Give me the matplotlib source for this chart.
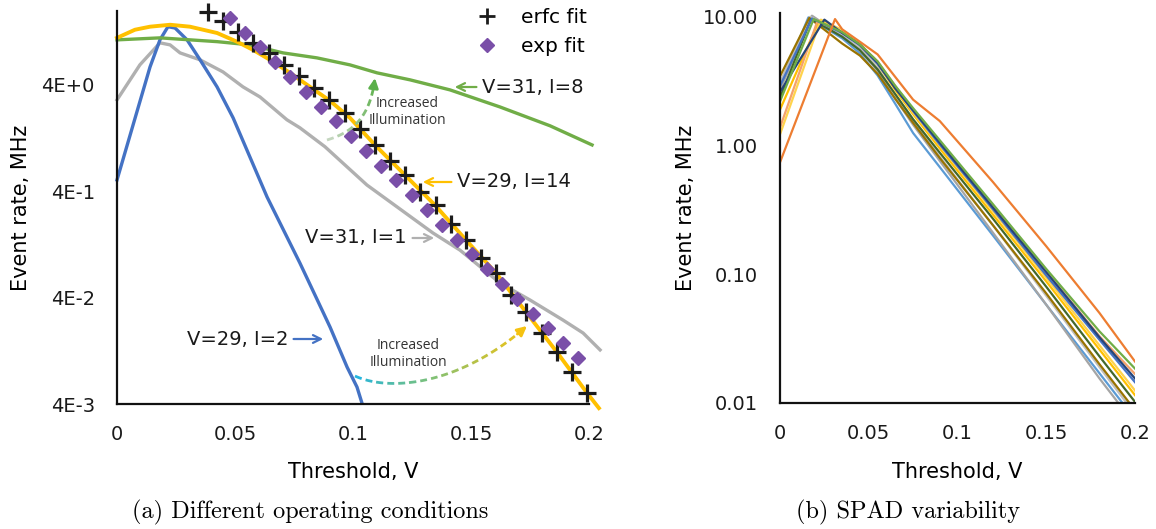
import numpy as np
import matplotlib
matplotlib.use('Agg')
import matplotlib.pyplot as plt
from matplotlib.lines import Line2D
from matplotlib.collections import LineCollection
from matplotlib.colors import LinearSegmentedColormap
from matplotlib.ticker import NullLocator

plt.rcParams['font.family'] = 'DejaVu Sans'

# ---- (a) different operating conditions ----
blue_x = [0, 0.014, 0.0182, 0.0216, 0.0246, 0.0297, 0.0352, 0.0424, 0.0492, 0.0636,
          0.0775, 0.0839, 0.0903, 0.0975, 0.1017, 0.1038]
blue_y = [0.511, 5.9, 10.6, 14.1, 13.7, 10.6, 6.88, 3.83, 1.96, 0.353,
          0.0846, 0.0423, 0.0211, 0.00889, 0.00577, 0.00408]

yellow_x = [0, 0.0076, 0.014, 0.0225, 0.0309, 0.0424, 0.0508, 0.0576, 0.0648, 0.0733,
            0.0818, 0.0903, 0.0987, 0.1093, 0.122, 0.1347, 0.1479, 0.1606, 0.1733,
            0.1864, 0.1992, 0.2042]
yellow_y = [11.07, 13.2, 14.1, 14.7, 14.1, 12.3, 10.2, 8.54, 6.88, 5.19,
            3.83, 2.83, 1.96, 1.09, 0.569, 0.297, 0.139, 0.0681, 0.0293,
            0.0123, 0.00507, 0.00366]

green_x = [0, 0.0182, 0.0424, 0.0564, 0.0703, 0.0847, 0.0987, 0.1102, 0.1242,
           0.1411, 0.1623, 0.1835, 0.2013]
green_y = [10.6, 11.07, 10.2, 9.51, 8.0, 7.18, 6.17, 5.19, 4.46,
           3.59, 2.48, 1.65, 1.09]

gray_x = [0, 0.0097, 0.0182, 0.0225, 0.0267, 0.0352, 0.0449, 0.0534, 0.0606, 0.072,
          0.0775, 0.0881, 0.1059, 0.1339, 0.1453, 0.1623, 0.175, 0.189, 0.1975, 0.2047]
gray_y = [2.89, 6.17, 9.94, 9.51, 8.0, 6.88, 5.30, 3.83, 3.08, 1.88,
          1.58, 1.05, 0.458, 0.162, 0.112, 0.0549, 0.038, 0.0246, 0.0186, 0.0129]

erfc_x = [0.0386, 0.0450, 0.0514, 0.0578, 0.0643, 0.0707, 0.0771, 0.0836, 0.0900,
          0.0964, 0.1028, 0.1093, 0.1157, 0.1221, 0.1285, 0.1350, 0.1414, 0.1478,
          0.1542, 0.1607, 0.1671, 0.1735, 0.1799, 0.1864, 0.1928, 0.1992]
erfc_y = [19.4, 15.8, 12.6, 9.94, 8.0, 6.17, 4.86, 3.75, 2.89,
          2.18, 1.54, 1.09, 0.771, 0.569, 0.394, 0.297, 0.197, 0.139,
          0.0944, 0.0681, 0.0423, 0.0293, 0.0186, 0.0123, 0.0080, 0.00507]

exp_x = [0.0479, 0.0543, 0.0607, 0.0671, 0.0735, 0.0799, 0.0864, 0.0928, 0.0992,
         0.1056, 0.1120, 0.1184, 0.1248, 0.1312, 0.1376, 0.1440, 0.1504, 0.1569,
         0.1633, 0.1697, 0.1761, 0.1825, 0.1889, 0.1953]
exp_y = [17.1, 12.4, 9.01, 6.54, 4.75, 3.45, 2.50, 1.82, 1.32,
         0.958, 0.695, 0.505, 0.366, 0.266, 0.193, 0.140, 0.102, 0.0740,
         0.0537, 0.0390, 0.0283, 0.0206, 0.0149, 0.0108]

left_yticks = [0.004, 0.04, 0.4, 4]
left_ylabels = ['4E-3', '4E-2', '4E-1', '4E+0']
xticks = [0, 0.05, 0.1, 0.15, 0.2]
xlabels = ['0', '0.05', '0.1', '0.15', '0.2']

# ---- (b) SPAD variability: value at 0, at the peak, then on spad_grid ----
spad_grid = [0.035, 0.045, 0.055, 0.065, 0.075, 0.09, 0.12, 0.15, 0.18, 0.2]
spad_colors = ['#5B9BD5', '#A5A5A5', '#BFBFBF', '#997300', '#43682B', '#FFC000',
               '#FFD34D', '#F4A26B', '#4472C4', '#264478', '#70AD47', '#ED7D31']
spad_peak_x = [0.016, 0.018, 0.017, 0.0165, 0.0175, 0.022,
               0.023, 0.021, 0.018, 0.025, 0.019, 0.031]
spad_lightblue = [2.95, 9.9, 6.8, 5.2, 3.5, 2.1, 1.25, 0.68, 0.20, 0.058, 0.017, 0.0075]
spad_gray = [2.7, 10.2, 7.1, 5.5, 3.8, 2.3, 1.45, 0.76, 0.21, 0.058, 0.0155, 0.0068]
spad_lightgray = [3.1, 10.0, 7.2, 5.7, 4.0, 2.45, 1.55, 0.82, 0.24, 0.068, 0.019, 0.0082]
spad_olive = [3.45, 9.8, 6.2, 5.0, 3.6, 2.3, 1.5, 0.8, 0.24, 0.071, 0.02, 0.0088]
spad_darkgreen = [2.35, 9.6, 7.0, 5.5, 3.9, 2.5, 1.6, 0.88, 0.27, 0.08, 0.023, 0.0102]
spad_gold = [1.9, 9.3, 7.8, 6.0, 4.3, 2.7, 1.75, 0.95, 0.29, 0.088, 0.026, 0.0115]
spad_yellow = [1.22, 9.5, 7.9, 6.1, 4.4, 2.8, 1.8, 1.0, 0.31, 0.094, 0.028, 0.0125]
spad_lightorange = [1.38, 9.2, 7.6, 6.1, 4.5, 2.9, 1.9, 1.06, 0.34, 0.105, 0.033, 0.0168]
spad_blue = [2.9, 9.7, 7.5, 6.0, 4.3, 2.8, 1.85, 1.02, 0.32, 0.098, 0.031, 0.0145]
spad_darkblue = [2.6, 9.5, 7.5, 6.1, 4.4, 2.77, 1.88, 1.05, 0.33, 0.104, 0.0324, 0.0155]
spad_green = [2.2, 9.6, 7.6, 6.1, 4.5, 2.9, 1.95, 1.1, 0.35, 0.11, 0.036, 0.0185]
spad_orange = [0.74, 9.6, 8.0, 6.4, 5.1, 3.4, 2.27, 1.55, 0.52, 0.165, 0.05, 0.021]
spad_curves = [spad_lightblue, spad_gray, spad_lightgray, spad_olive, spad_darkgreen,
               spad_gold, spad_yellow, spad_lightorange, spad_blue, spad_darkblue,
               spad_green, spad_orange]

right_yticks = [0.01, 0.1, 1, 10]
right_ylabels = ['0.01', '0.10', '1.00', '10.00']

BLUE, YELLOW, GREEN, GRAY = '#4472C4', '#FFC000', '#70AD47', '#B0B0B0'
PURPLE, BLACK = '#7A4FA8', '#1c1c1c'


def style_axes(ax, yticks, ylabels):
    ax.set_yscale('log')
    ax.set_xlim(0, 0.2)
    ax.set_xticks(xticks, xlabels)
    ax.set_yticks(yticks, ylabels)
    ax.yaxis.set_minor_locator(NullLocator())
    for s in ['top', 'right']:
        ax.spines[s].set_visible(False)
    for s in ['left', 'bottom']:
        ax.spines[s].set_linewidth(1.6)
        ax.spines[s].set_color('#111111')
    ax.tick_params(axis='both', length=0, labelsize=14, colors='#1a1a1a')
    ax.tick_params(axis='y', pad=16)
    ax.tick_params(axis='x', pad=15)


def gradient_arrow(ax, pts, colors, lw=2.0, dash=7, gap=4):
    # dashed cubic bezier in axes fraction, colour fading along the path
    p = np.array(pts)
    t = np.linspace(0, 1, 400)[:, None]
    c = ((1 - t) ** 3) * p[0] + 3 * ((1 - t) ** 2) * t * p[1] + 3 * (1 - t) * t ** 2 * p[2] + t ** 3 * p[3]
    disp = ax.transAxes.transform(c)
    s = np.concatenate([[0], np.cumsum(np.hypot(*np.diff(disp, axis=0).T))])
    cmap = LinearSegmentedColormap.from_list('g', colors)
    on = (s % (dash + gap)) < dash
    on[-15:] = False
    segs, cols = [], []
    i = 0
    while i < len(c):
        if on[i]:
            j = i
            while j + 1 < len(c) and on[j + 1]:
                j += 1
            segs.append(c[i:j + 2])
            cols.append(cmap(t[(i + j) // 2, 0]))
            i = j + 1
        else:
            i += 1
    ax.add_collection(LineCollection(segs, colors=cols, linewidths=lw,
                                     transform=ax.transAxes, capstyle='butt'))
    ax.annotate('', xy=c[-1], xytext=c[-20], xycoords='axes fraction',
                textcoords='axes fraction',
                arrowprops=dict(arrowstyle='-|>', color=colors[-1], lw=lw,
                                mutation_scale=14, shrinkA=0, shrinkB=0))


fig = plt.figure(figsize=(11.56, 5.29), dpi=100)
ax1 = fig.add_axes([0.10121, 0.23629, 0.40830, 0.74291])
ax2 = fig.add_axes([0.67474, 0.23819, 0.30709, 0.73724])

# panel (a)
ax1.plot(gray_x, gray_y, color=GRAY, lw=2.4, clip_on=False)
ax1.plot(blue_x, blue_y, color=BLUE, lw=2.4, clip_on=False)
ax1.plot(green_x, green_y, color=GREEN, lw=2.4, clip_on=False)
ax1.plot(yellow_x, yellow_y, color=YELLOW, lw=2.8, clip_on=False)
ax1.plot(erfc_x, erfc_y, ls='none', marker='+', ms=13, mew=2.3, color=BLACK, clip_on=False)
ax1.plot(exp_x, exp_y, ls='none', marker='D', ms=7, color=PURPLE, mec=PURPLE, clip_on=False)
style_axes(ax1, left_yticks, left_ylabels)
ax1.set_ylim(0.004, 19.8)
ax1.set_xlabel('Threshold, V', fontsize=15)
ax1.set_ylabel('Event rate, MHz', fontsize=15)
ax1.xaxis.set_label_coords(0.5, -0.148)
ax1.yaxis.set_label_coords(-0.182, 0.5)

handles = [Line2D([], [], ls='none', marker='+', ms=11, mew=2.0, color=BLACK),
           Line2D([], [], ls='none', marker='D', ms=7, color=PURPLE)]
ax1.legend(handles, ['erfc fit', 'exp fit'], loc='upper left', bbox_to_anchor=(0.763, 1.008),
           frameon=False, fontsize=14.5, handlelength=1.0, handletextpad=1.2,
           labelspacing=0.5, borderpad=0, borderaxespad=0)

txt = dict(fontsize=14, color='#1a1a1a', va='center', xycoords='axes fraction',
           textcoords='axes fraction')
ax1.annotate('V=31, I=8', xy=(0.7097, 0.8066), xytext=(0.7733, 0.8066), ha='left',
             arrowprops=dict(arrowstyle='->', color=GREEN, lw=1.6), **txt)
ax1.annotate('V=29, I=14', xy=(0.642, 0.5649), xytext=(0.7203, 0.5649), ha='left',
             arrowprops=dict(arrowstyle='->', color=YELLOW, lw=1.6), **txt)
ax1.annotate('V=31, I=1', xy=(0.678, 0.4224), xytext=(0.6144, 0.4224), ha='right',
             arrowprops=dict(arrowstyle='->', color=GRAY, lw=1.6), **txt)
ax1.annotate('V=29, I=2', xy=(0.4428, 0.1654), xytext=(0.3623, 0.1654), ha='right',
             arrowprops=dict(arrowstyle='->', color=BLUE, lw=1.6), **txt)

gradient_arrow(ax1, [(0.4449, 0.6718), (0.4936, 0.6896), (0.5360, 0.7226), (0.5466, 0.8295)],
               ['#c9d8c5', '#5bb04a'])
gradient_arrow(ax1, [(0.5042, 0.0712), (0.5784, 0.0305), (0.7267, 0.0483), (0.8686, 0.1985)],
               ['#1fb4e4', '#7cc17a', '#f5c211'])
ill = dict(fontsize=10, family='Open Sans', color='#333333', ha='center', va='center',
           linespacing=1.25, transform=ax1.transAxes)
ax1.text(0.6144, 0.743, 'Increased\nIllumination', **ill)
ax1.text(0.6165, 0.1272, 'Increased\nIllumination', **ill)

# panel (b)
for col, px, vals in zip(spad_colors, spad_peak_x, spad_curves):
    ax2.plot([0, px] + spad_grid, vals, color=col, lw=1.6)
style_axes(ax2, right_yticks, right_ylabels)
ax2.set_ylim(0.01, 10.7)
ax2.set_xlabel('Threshold, V', fontsize=15)
ax2.set_ylabel('Event rate, MHz', fontsize=15)
ax2.xaxis.set_label_coords(0.5, -0.152)
ax2.yaxis.set_label_coords(-0.237, 0.5)

fig.text(0.2682, 0.0321, '(a) Different operating conditions', family='cmr10',
         fontsize=17.5, ha='center', va='center')
fig.text(0.7855, 0.0321, '(b) SPAD variability', family='cmr10',
         fontsize=17.5, ha='center', va='center')

fig.savefig('out.png', dpi=100, facecolor='white')
